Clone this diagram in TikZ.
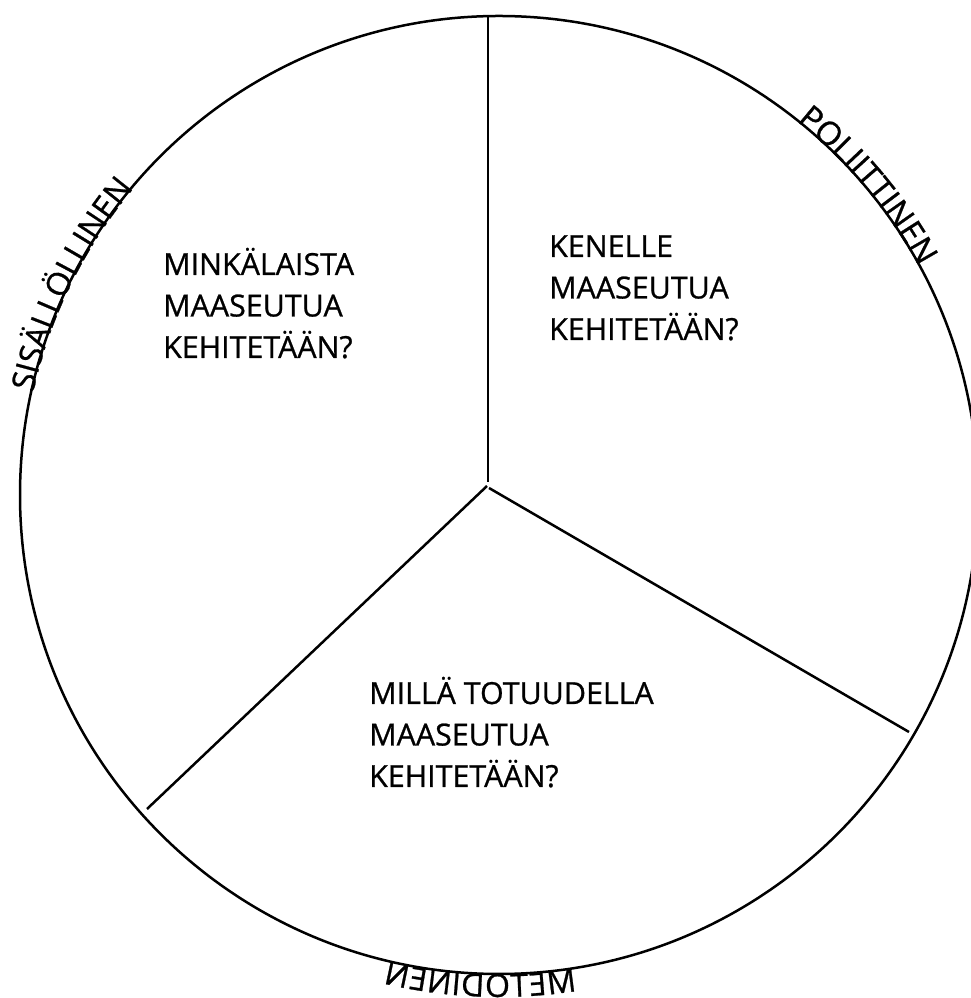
\documentclass[tikz,border=0pt]{standalone}
\usepackage{fontspec}
\setmainfont{Open Sans}
\newfontfamily\qfont{Open Sans}[FakeBold=0.8]
\usetikzlibrary{decorations.text}
\begin{document}
\begin{tikzpicture}[x=1pt,y=1pt,
  rim/.style={line width=2.5pt},
  seg/.style={line width=2.5pt},
  question/.style={anchor=base west, inner sep=0pt, align=left,
    font=\qfont\fontsize{30.4}{41.5}\selectfont},
  arclabel/.style={decorate, decoration={text along path, text align=center}}
  ]
\useasboundingbox (0,0) rectangle (970,998);
\coordinate (C) at (499,503);
\draw[rim] (C) circle[radius=479];
% dividing lines
\coordinate (top) at (488,982);
\coordinate (J1) at (488,516);
\coordinate (J2) at (487,512);
\coordinate (J3) at (489,510);
\coordinate (LL) at (147,189);
\coordinate (LR) at (909,266);
\draw[seg] (top) -- (J1);
\draw[seg] (J2) -- (LL);
\draw[seg] (J3) -- (LR);
% questions (anchor = baseline of last line)
\node[question] (q1) at (163,640) {MINKÄLAISTA\\MAASEUTUA\\KEHITETÄÄN?};
\node[question] (q2) at (549,658) {KENELLE\\MAASEUTUA\\KEHITETÄÄN?};
\node[question] (q3) at (369,211) {MILLÄ TOTUUDELLA\\MAASEUTUA\\KEHITETÄÄN?};
% curved labels
\path[arclabel, decoration={text={|\qfont\fontsize{32}{36}\selectfont|SISÄLLÖLLINEN}, raise=-2pt}]
  ([shift={(173.75:479)}]C) arc[start angle=173.75, end angle=133.75, radius=479];
\path[arclabel, decoration={text={|\qfont\fontsize{32.5}{36}\selectfont|POLIITTINEN}, raise=-1pt}]
  ([shift={(60:479)}]C) arc[start angle=60, end angle=20, radius=479];
\begin{scope}[transform canvas={xshift=998pt, xscale=-1}]
\path[arclabel, decoration={text={|\qfont\fontsize{32}{36}\selectfont|METODINEN}, raise=-23pt}]
  ([shift={(252.2:479)}]C) arc[start angle=252.2, end angle=292.2, radius=479];
\end{scope}
\end{tikzpicture}
\end{document}
